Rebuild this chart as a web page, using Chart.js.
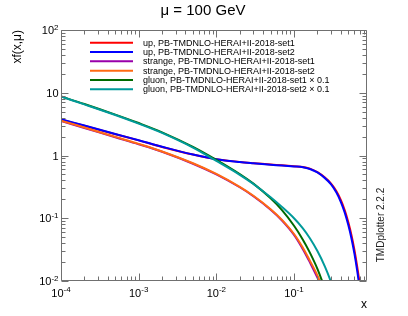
<!DOCTYPE html>
<html><head><meta charset="utf-8">
<script src="https://cdn.jsdelivr.net/npm/chart.js@4"></script>
<style>html,body{margin:0;padding:0;background:#fff;}canvas{display:block}</style>
</head><body>
<canvas id="c" width="408" height="316"></canvas>
<script>
const FONT = '"Liberation Sans", Arial, Helvetica, sans-serif';

const chartTitle = '\u03bc = 100 GeV';
const xValues = [1e-4, 2e-4, 5e-4, 1e-3, 2e-3, 5e-3, 1e-2, 2e-2, 3e-2, 5e-2, 0.07, 0.1, 0.13, 0.16, 0.2, 0.25, 0.3, 0.35, 0.4, 0.45, 0.5, 0.55, 0.6, 0.65, 0.7, 0.75];

const upSet1 = [3.75, 2.97, 2.18, 1.74, 1.37, 1.035, 0.875, 0.79, 0.755, 0.718, 0.697, 0.675, 0.657, 0.617, 0.542, 0.445, 0.357, 0.272, 0.196, 0.134, 0.0864, 0.0533, 0.031, 0.0171, 0.0091, 0.0048];
const upSet2 = [3.8, 3.0, 2.2, 1.75, 1.38, 1.035, 0.875, 0.785, 0.75, 0.713, 0.692, 0.67, 0.652, 0.61, 0.537, 0.436, 0.347, 0.259, 0.183, 0.123, 0.0778, 0.0472, 0.027, 0.0146, 0.0076, 0.0039];
const strangeSet1 = [3.55, 2.75, 1.95, 1.51, 1.145, 0.74, 0.5, 0.312, 0.224, 0.137, 0.092, 0.0545, 0.0322, 0.0198, 0.0113, 0.0058, 0.003, 0.0015];
const strangeSet2 = [3.6, 2.79, 1.98, 1.53, 1.16, 0.752, 0.508, 0.317, 0.228, 0.1396, 0.0942, 0.0561, 0.0339, 0.0211, 0.0123, 0.0063, 0.0033, 0.0017];
const gluonSet1x01 = [8.7, 6.61, 4.49, 3.29, 2.34, 1.374, 0.853, 0.507, 0.356, 0.208, 0.1346, 0.076, 0.0456, 0.0283, 0.0156, 0.0075, 0.0038, 0.0019];
const gluonSet2x01 = [8.7, 6.53, 4.42, 3.22, 2.29, 1.337, 0.818, 0.492, 0.351, 0.216, 0.151, 0.1, 0.0689, 0.0479, 0.030, 0.017, 0.0096, 0.0054, 0.0027];

const seriesLabels = [
  'up, PB-TMDNLO-HERAI+II-2018-set1',
  'up, PB-TMDNLO-HERAI+II-2018-set2',
  'strange, PB-TMDNLO-HERAI+II-2018-set1',
  'strange, PB-TMDNLO-HERAI+II-2018-set2',
  'gluon, PB-TMDNLO-HERAI+II-2018-set1 \u00d7 0.1',
  'gluon, PB-TMDNLO-HERAI+II-2018-set2 \u00d7 0.1'
];
const seriesValues = [upSet1, upSet2, strangeSet1, strangeSet2, gluonSet1x01, gluonSet2x01];
const seriesColors = ['#ff0000', '#0000ff', '#9900aa', '#ff6a13', '#006a00', '#009a9a'];

const xTickExps = [-4, -3, -2, -1];
const yTickExps = [2, 1, 0, -1, -2];

const datasets = seriesValues.map((vals, i) => ({
  label: seriesLabels[i],
  data: vals.map((v, j) => ({x: xValues[j], y: v})),
  borderColor: seriesColors[i],
  backgroundColor: seriesColors[i],
  borderWidth: 2,
  pointRadius: 0,
  fill: false,
  tension: 0.35,
  order: seriesValues.length - i
}));

function expLabel(e) {
  if (e === 0) return {b: '1', e: ''};
  if (e === 1) return {b: '10', e: ''};
  return {b: '10', e: String(e)};
}

const decor = {
  id: 'decor',
  afterDraw(chart) {
    const {ctx, chartArea: a, scales} = chart;
    const xs = scales.x, ys = scales.y;
    ctx.save();
    ctx.fillStyle = '#000';
    ctx.font = '15px ' + FONT;
    ctx.textAlign = 'center';
    ctx.textBaseline = 'middle';
    ctx.fillText(chartTitle, 203, 11);

    ctx.strokeStyle = '#707070';
    ctx.lineWidth = 1;
    const L = Math.round(a.left) + 0.5, R = Math.round(a.right) - 0.5;
    const T = Math.round(a.top) + 0.5, B = Math.round(a.bottom) - 0.5;
    ctx.beginPath();
    ctx.moveTo(L, T); ctx.lineTo(R, T); ctx.lineTo(R, B); ctx.lineTo(L, B); ctx.closePath();
    ctx.stroke();
    ctx.beginPath();
    for (let d = -4; d <= 0; d++) {
      for (let m = 1; m <= 9; m++) {
        const v = m * Math.pow(10, d);
        if (v < xs.min * 0.999 || v > xs.max * 1.001) continue;
        const p = Math.round(xs.getPixelForValue(v)) + 0.5;
        const len = m === 1 ? 7 : 4;
        ctx.moveTo(p, B); ctx.lineTo(p, B - len);
        ctx.moveTo(p, T); ctx.lineTo(p, T + len);
      }
    }
    for (let d = -2; d <= 2; d++) {
      for (let m = 1; m <= 9; m++) {
        const v = m * Math.pow(10, d);
        if (v < ys.min * 0.999 || v > ys.max * 1.001) continue;
        const p = Math.round(ys.getPixelForValue(v)) + 0.5;
        const len = m === 1 ? 7 : 4;
        ctx.moveTo(L, p); ctx.lineTo(L + len, p);
        ctx.moveTo(R, p); ctx.lineTo(R - len, p);
      }
    }
    ctx.stroke();

    ctx.fillStyle = '#000';
    ctx.textBaseline = 'alphabetic';
    ctx.textAlign = 'left';
    const bf = '11px ' + FONT, ef = '8px ' + FONT;
    xTickExps.forEach(e => {
      const lab = expLabel(e);
      const p = xs.getPixelForValue(Math.pow(10, e));
      ctx.font = bf; const w1 = ctx.measureText(lab.b).width;
      ctx.font = ef; const w2 = lab.e ? ctx.measureText(lab.e).width : 0;
      const x0 = p - (w1 + w2) / 2;
      ctx.font = bf; ctx.fillText(lab.b, x0, 296.5);
      if (lab.e) { ctx.font = ef; ctx.fillText(lab.e, x0 + w1, 291.5); }
    });
    const rEdge = 58.5;
    yTickExps.forEach(e => {
      const lab = expLabel(e);
      const p = ys.getPixelForValue(Math.pow(10, e));
      ctx.font = ef; const w2 = lab.e ? ctx.measureText(lab.e).width : 0;
      ctx.font = bf; const w1 = ctx.measureText(lab.b).width;
      const x0 = rEdge - w2 - w1;
      ctx.fillText(lab.b, x0, p + 4);
      if (lab.e) { ctx.font = ef; ctx.fillText(lab.e, x0 + w1, p - 0.5); }
    });

    ctx.font = '9px ' + FONT;
    ctx.textBaseline = 'middle';
    seriesLabels.forEach((t, i) => {
      const y = 42.7 + i * 9.33;
      ctx.strokeStyle = seriesColors[i];
      ctx.lineWidth = 2;
      ctx.beginPath(); ctx.moveTo(90, y); ctx.lineTo(133, y); ctx.stroke();
      ctx.fillStyle = '#000';
      ctx.fillText(t, 143, y + 0.5);
    });

    ctx.save();
    ctx.translate(381, 225);
    ctx.rotate(-Math.PI / 2);
    ctx.font = '10px ' + FONT;
    ctx.textAlign = 'center';
    ctx.textBaseline = 'middle';
    ctx.fillStyle = '#222';
    ctx.fillText('TMDplotter 2.2.2', 0, 0);
    ctx.restore();
    ctx.restore();
  }
};

new Chart(document.getElementById('c'), {
  type: 'line',
  data: {datasets},
  plugins: [decor],
  options: {
    responsive: false,
    animation: false,
    devicePixelRatio: 1,
    layout: {padding: {left: 0, right: 41, top: 30, bottom: 0}},
    plugins: {
      legend: {display: false},
      tooltip: {enabled: false},
      title: {display: false}
    },
    scales: {
      x: {
        type: 'logarithmic',
        min: 1e-4, max: 0.87,
        grid: {display: false, drawTicks: false},
        border: {display: false},
        ticks: {display: false},
        title: {display: true, text: 'x', align: 'end', color: '#000',
                font: {family: FONT, size: 12, lineHeight: 1.2}, padding: {top: 0, bottom: 4}},
        afterFit(s) { s.height = 35; }
      },
      y: {
        type: 'logarithmic',
        min: 0.01, max: 100,
        grid: {display: false, drawTicks: false},
        border: {display: false},
        ticks: {display: false},
        title: {display: true, text: 'xf(x,\u03bc)', align: 'end', color: '#000',
                font: {family: FONT, size: 12, lineHeight: 1.2}, padding: {top: 10, bottom: 0}},
        afterFit(s) { s.width = 61; }
      }
    }
  }
});
</script>
</body></html>
